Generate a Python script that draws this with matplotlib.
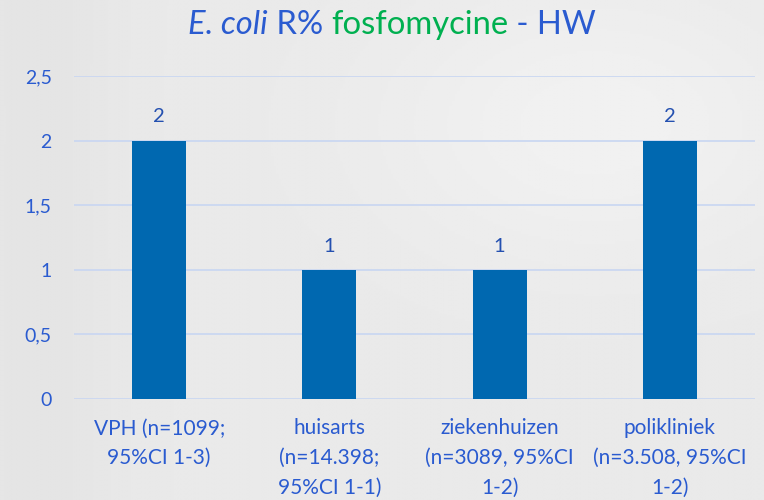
import matplotlib
matplotlib.use("Agg")
import matplotlib.pyplot as plt
import numpy as np

categories = ["VPH (n=1099;\n95%CI 1-3)", "huisarts\n(n=14.398;\n95%CI 1-1)",
              "ziekenhuizen\n(n=3089, 95%CI\n1-2)", "polikliniek\n(n=3.508, 95%CI\n1-2)"]
values = [2, 1, 1, 2]
yticks = [0, 0.5, 1, 1.5, 2, 2.5]
ytick_labels = ["0", "0,5", "1", "1,5", "2", "2,5"]

FONT = "Lato"
BLUE_TXT = "#2A5BD0"
LBL_TXT = "#2450B0"
BAR = "#0068B0"
GREEN = "#00B050"

fig = plt.figure(figsize=(7.64, 5.0), dpi=100)
fig.patch.set_facecolor("#EBEBEB")

# background gradient
bg = fig.add_axes([0, 0, 1, 1], zorder=-10)
yy, xx = np.mgrid[0:1:200j, 0:1:300j]
img = 0.915 + 0.03 * np.exp(-((xx - 0.78) ** 2 + (yy - 0.75) ** 2) / 0.08) \
      - 0.02 * np.exp(-((xx - 0.05) ** 2) / 0.01)
bg.imshow(img, cmap="gray", vmin=0, vmax=1, extent=[0, 1, 0, 1], aspect="auto", origin="lower")
bg.axis("off")

ax = fig.add_axes([74 / 764, 1 - 399 / 500, (755 - 74) / 764, (399 - 76) / 500])
ax.set_facecolor("none")
x = np.arange(len(categories))
bars = ax.bar(x, values, width=0.317, color=BAR, zorder=3)
ax.set_xlim(-0.5, len(categories) - 0.5)
ax.set_ylim(0, 2.5)
ax.set_yticks(yticks)
ax.set_yticklabels(ytick_labels, fontfamily=FONT, fontsize=14, color=BLUE_TXT)
ax.set_xticks(x)
ax.set_xticklabels(categories, fontfamily=FONT, fontsize=15, color=BLUE_TXT, linespacing=1.6)
ax.tick_params(axis="both", length=0)
ax.tick_params(axis="y", pad=16)
ax.tick_params(axis="x", pad=14)
for s in ax.spines.values():
    s.set_visible(False)
ax.grid(axis="y", color="#C8D6F2", linewidth=1.2, zorder=0)
ax.set_axisbelow(True)
for b, v in zip(bars, values):
    ax.annotate(f"{v}", (b.get_x() + b.get_width() / 2, v), xytext=(0, 11),
                textcoords="offset points", ha="center", va="bottom",
                fontfamily=FONT, fontsize=14.5, color=LBL_TXT)

# multi-colored title
parts = [("E. coli", BLUE_TXT, "italic"), (" R% ", BLUE_TXT, "normal"),
         ("fosfomycine", GREEN, "normal"), (" - HW", BLUE_TXT, "normal")]
fig.canvas.draw()
r = fig.canvas.get_renderer()
texts = []
for t, c, st in parts:
    texts.append(fig.text(0, 1 - 34 / 500, t, color=c, style=st, fontfamily=FONT,
                          fontsize=23.6, va="baseline", ha="left"))
widths = [tx.get_window_extent(r).width for tx in texts]
total = sum(widths)
start = (392 - total / 2)
cur = start
for tx, w in zip(texts, widths):
    tx.set_x(cur / 764)
    cur += w

fig.savefig("out.png", dpi=100, facecolor=fig.get_facecolor())
